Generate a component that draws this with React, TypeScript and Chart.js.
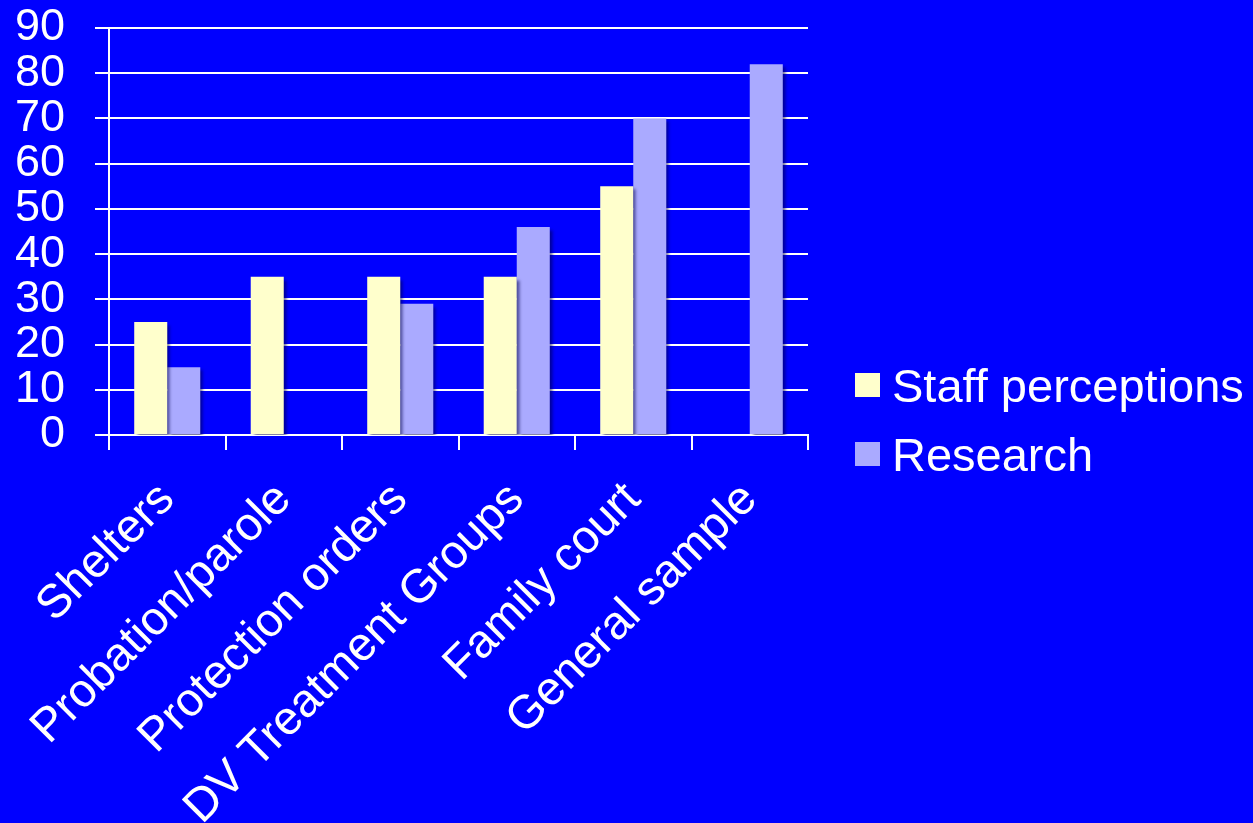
import React, { useEffect, useRef } from "react";
import { Chart, registerables } from "chart.js";

Chart.register(...registerables);

const categories = [
  "Shelters",
  "Probation/parole",
  "Protection orders",
  "DV Treatment Groups",
  "Family court",
  "General sample",
];
const staffPerceptions = [25, 35, 35, 35, 55, null];
const research = [15, null, 29, 46, 70, 82];
const seriesNames = ["Staff perceptions", "Research"];
const seriesColors = ["#FFFFCC", "#AAAAFF"];
const yTicks = [0, 10, 20, 30, 40, 50, 60, 70, 80, 90];

const FONT = "'Liberation Sans', Arial, Helvetica, sans-serif";

const shadowPlugin = {
  id: "barShadow",
  beforeDatasetsDraw(chart: any) {
    const ctx = chart.ctx;
    ctx.save();
    ctx.shadowColor = "rgba(0,0,70,0.55)";
    ctx.shadowOffsetX = 3;
    ctx.shadowOffsetY = 3;
    ctx.shadowBlur = 3;
  },
  afterDatasetsDraw(chart: any) {
    chart.ctx.restore();
  },
};

const legendPlugin = {
  id: "customLegend",
  afterDraw(chart: any) {
    const ctx = chart.ctx;
    ctx.save();
    const x0 = chart.chartArea.right + 47;
    const rows = [385, 454];
    chart.data.datasets.forEach((ds: any, i: number) => {
      const cy = rows[i];
      ctx.fillStyle = ds.backgroundColor;
      ctx.fillRect(x0, cy - 12, 25, 24);
      ctx.fillStyle = "#FFFFFF";
      ctx.font = `47px ${FONT}`;
      ctx.textAlign = "left";
      ctx.textBaseline = "alphabetic";
      ctx.fillText(ds.label, x0 + 37, cy + 17);
    });
    ctx.restore();
  },
};

export default function App() {
  const ref = useRef<HTMLCanvasElement>(null);

  useEffect(() => {
    if (!ref.current) return;
    Chart.defaults.font.family = FONT;
    const chart = new Chart(ref.current, {
      type: "bar",
      data: {
        labels: categories,
        datasets: [
          {
            label: seriesNames[0],
            data: staffPerceptions,
            backgroundColor: seriesColors[0],
            borderWidth: 0,
            categoryPercentage: 0.567,
            barPercentage: 1,
          },
          {
            label: seriesNames[1],
            data: research,
            backgroundColor: seriesColors[1],
            borderWidth: 0,
            categoryPercentage: 0.567,
            barPercentage: 1,
          },
        ],
      },
      options: {
        responsive: false,
        animation: false,
        devicePixelRatio: 1,
        layout: { padding: { top: 28, right: 445, bottom: 0, left: 0 } },
        plugins: {
          legend: { display: false },
          tooltip: { enabled: false },
          title: { display: false },
        },
        scales: {
          x: {
            afterFit(scale: any) {
              scale.height = 388;
            },
            grid: {
              display: true,
              drawOnChartArea: false,
              drawTicks: true,
              tickLength: 15,
              color: "#FFFFFF",
              lineWidth: 2,
              offset: true,
            },
            border: { display: true, color: "#FFFFFF", width: 2 },
            ticks: {
              color: "#FFFFFF",
              font: { size: 47, family: FONT },
              maxRotation: 45,
              minRotation: 45,
              padding: 22,
              autoSkip: false,
            },
          },
          y: {
            min: 0,
            max: 90,
            afterFit(scale: any) {
              scale.width = 109;
              scale.paddingTop = 0;
              scale.paddingBottom = 0;
            },
            afterBuildTicks(scale: any) {
              scale.ticks = yTicks.map((v) => ({ value: v }));
            },
            grid: {
              color: "#FFFFFF",
              lineWidth: 2,
              drawTicks: true,
              tickLength: 14,
            },
            border: { display: true, color: "#FFFFFF", width: 2 },
            ticks: {
              color: "#FFFFFF",
              font: { size: 45, family: FONT },
              padding: 30,
              autoSkip: false,
            },
          },
        },
      },
      plugins: [shadowPlugin, legendPlugin],
    } as any);
    return () => chart.destroy();
  }, []);

  return (
    <div
      style={{
        position: "fixed",
        left: 0,
        top: 0,
        width: 1253,
        height: 823,
        background: "#0000FF",
        overflow: "hidden",
      }}
    >
      <canvas ref={ref} width={1253} height={823} style={{ display: "block" }} />
    </div>
  );
}
